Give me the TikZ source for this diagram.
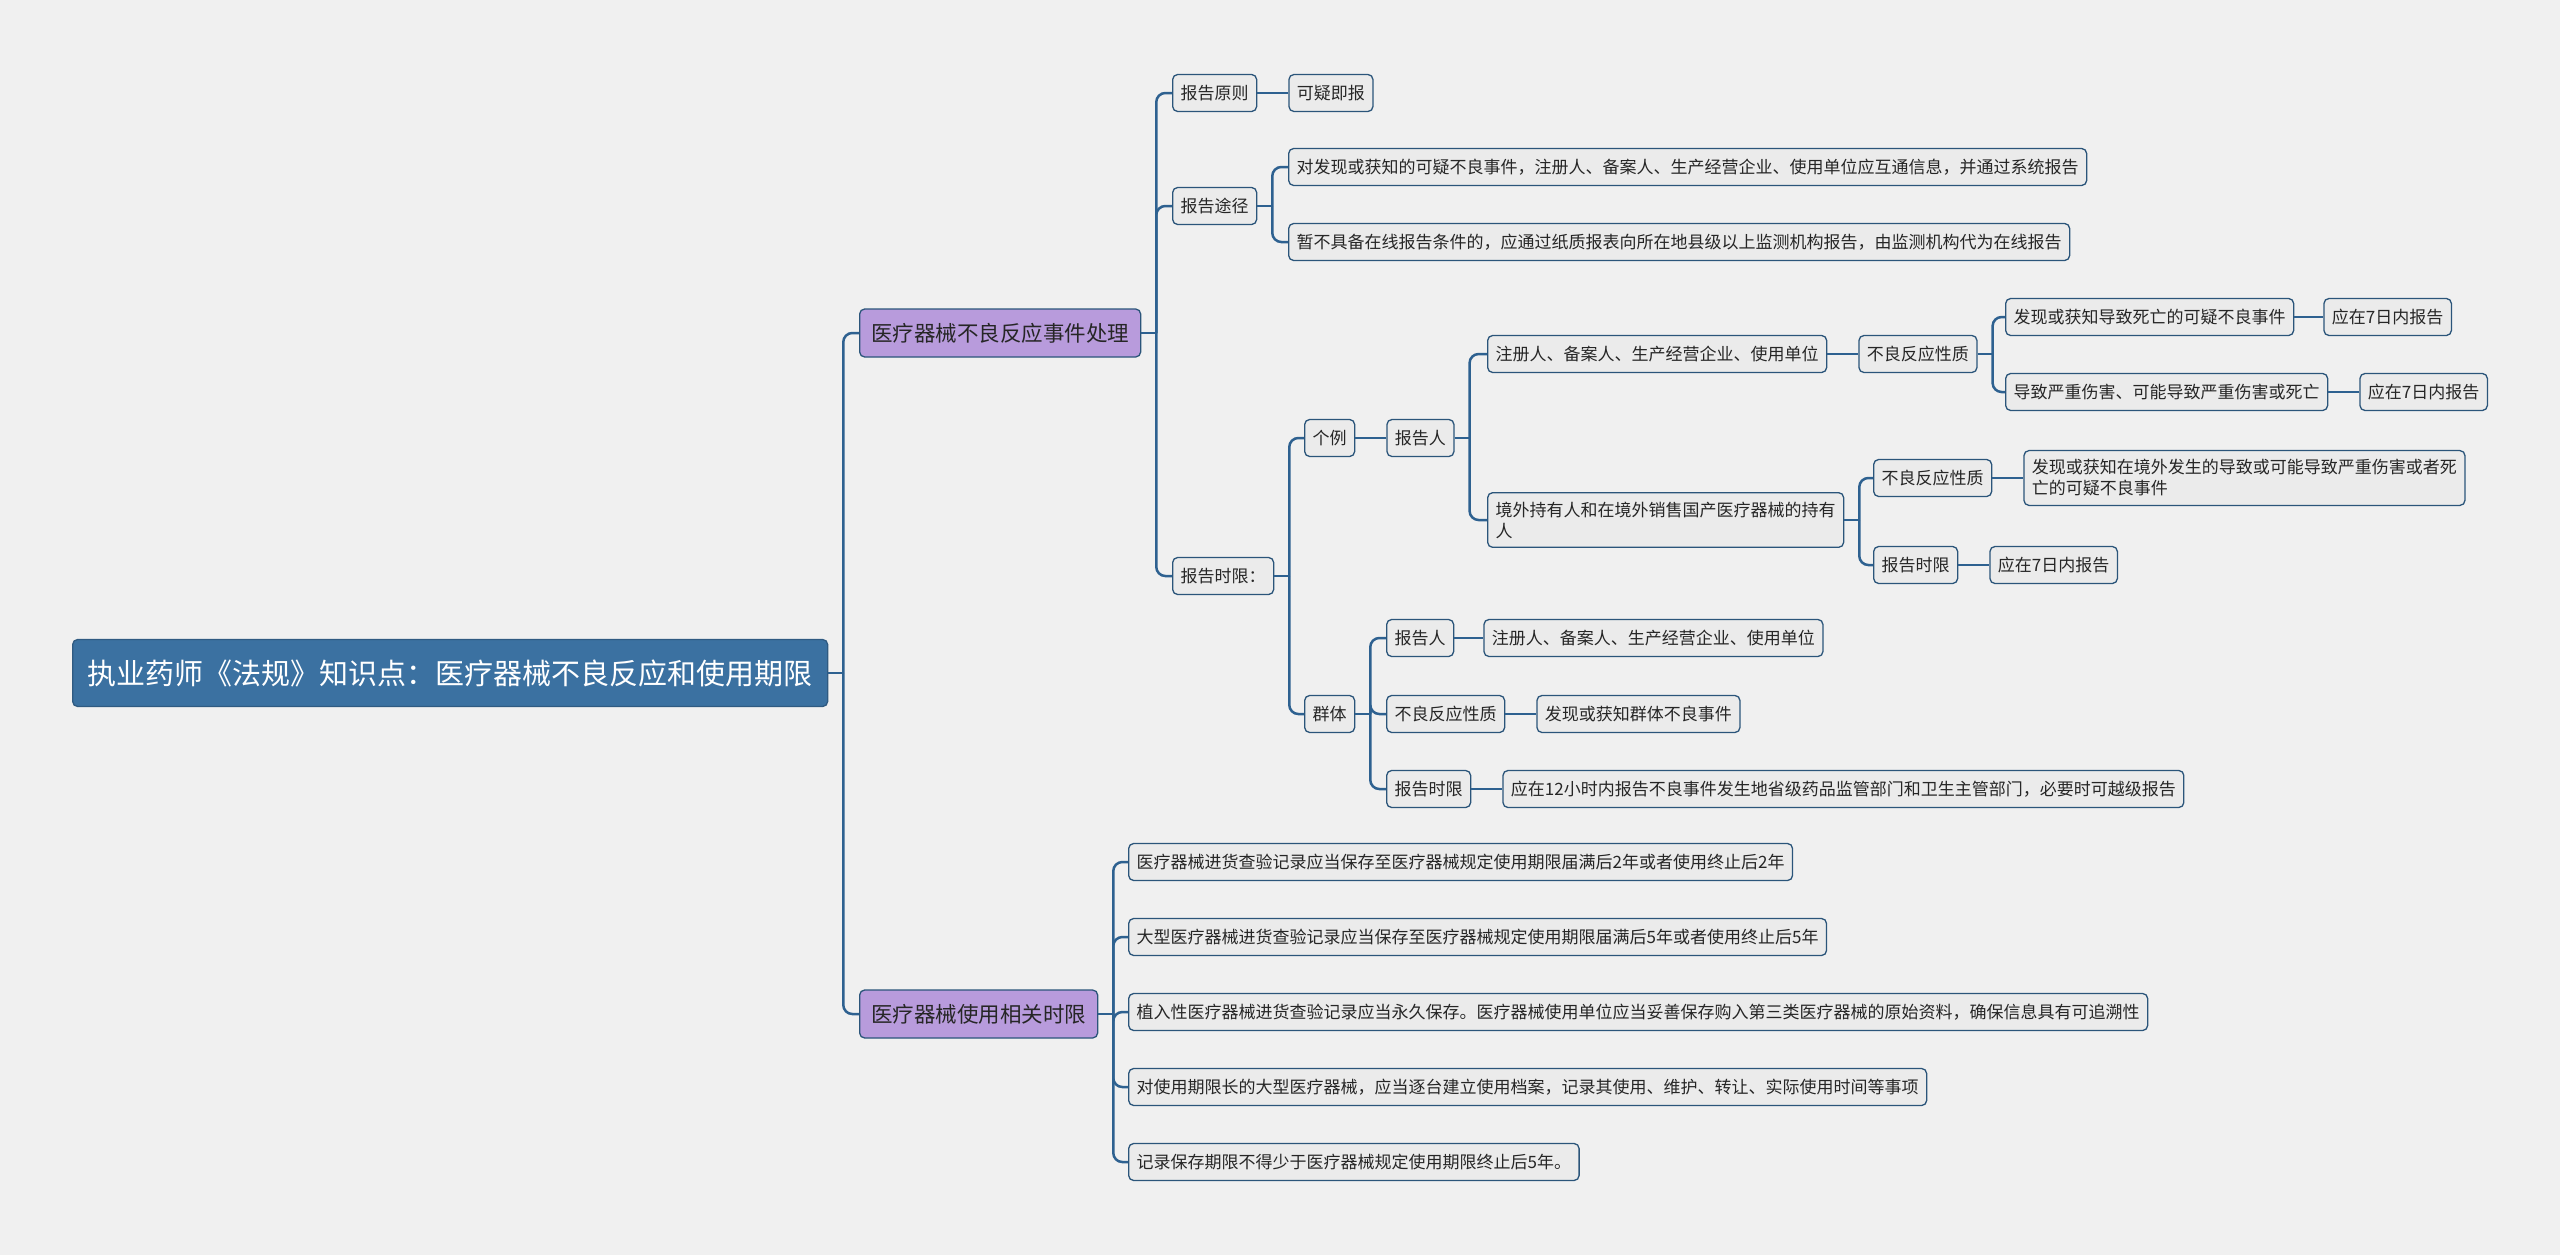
\documentclass[tikz,border=0pt]{standalone}
\usepackage{fontspec}
\setmainfont{Noto Sans CJK SC}
\usetikzlibrary{positioning}
\definecolor{bgc}{HTML}{F0F0F0}
\definecolor{linec}{HTML}{2E6190}
\definecolor{rootc}{HTML}{3B71A1}
\definecolor{mainc}{HTML}{B89BDC}
\definecolor{leafc}{HTML}{EBEBEB}
\definecolor{edgec}{HTML}{2B557A}

\begin{document}
\begin{tikzpicture}[x=1pt,y=-1pt,
  box/.style={draw=edgec,line width=1.3pt,rounded corners=5pt,anchor=west,inner ysep=0pt,minimum height=37pt},
  leaf/.style={box,fill=leafc,text=black!85,font=\fontsize{17}{21}\selectfont,inner xsep=8pt},
  twoline/.style={leaf,align=left,inner ysep=9pt},
  main/.style={box,fill=mainc,text=black!85,font=\fontsize{21.5}{26}\selectfont,inner xsep=11.5pt,minimum height=48pt},
  root/.style={box,fill=rootc,draw=rootc!80!black,text=white,font=\fontsize{29}{34}\selectfont,inner xsep=15pt,minimum height=67pt},
  conn/.style={draw=linec,line width=2.5pt,rounded corners=9pt}]
\fill[bgc] (0,0) rectangle (2560,1255);
% root and main branches
\node[root] (root) at (72,673) {执业药师《法规》知识点：医疗器械不良反应和使用期限};
\node[main] (b1) at (859,333) {医疗器械不良反应事件处理};
\node[main] (b2) at (859,1014) {医疗器械使用相关时限};
% reporting
\node[leaf] (yz) at (1172,93) {报告原则};
\node[leaf,right=31pt of yz] (yz1) {可疑即报};
\node[leaf] (tj) at (1172,206) {报告途径};
\node[leaf] (tj1) at (1288,167) {对发现或获知的可疑不良事件，注册人、备案人、生产经营企业、使用单位应互通信息，并通过系统报告};
\node[leaf] (tj2) at (1288,242) {暂不具备在线报告条件的，应通过纸质报表向所在地县级以上监测机构报告，由监测机构代为在线报告};
\node[leaf] (sx) at (1172,576) {报告时限：};
% single cases
\node[leaf] (gl) at (1304,438) {个例};
\node[leaf,right=31pt of gl] (glr) {报告人};
\node[leaf] (zc) at (1487,354) {注册人、备案人、生产经营企业、使用单位};
\node[leaf,right=31pt of zc] (zcx) {不良反应性质};
\node[leaf] (sw) at (2005,317) {发现或获知导致死亡的可疑不良事件};
\node[leaf,right=29pt of sw] (sw7) {应在7日内报告};
\node[leaf] (ss) at (2005,392) {导致严重伤害、可能导致严重伤害或死亡};
\node[leaf,right=31pt of ss] (ss7) {应在7日内报告};
\node[twoline] (jw) at (1487,520) {境外持有人和在境外销售国产医疗器械的持有\\人};
\node[leaf] (jwx) at (1873,478) {不良反应性质};
\node[twoline,right=31pt of jwx] (jwxd) {发现或获知在境外发生的导致或可能导致严重伤害或者死\\亡的可疑不良事件};
\node[leaf] (jwt) at (1873,565) {报告时限};
\node[leaf,right=31pt of jwt] (jwt7) {应在7日内报告};
% group cases
\node[leaf] (qt) at (1304,714) {群体};
\node[leaf] (qtr) at (1386,638) {报告人};
\node[leaf,right=29pt of qtr] (qtrz) {注册人、备案人、生产经营企业、使用单位};
\node[leaf] (qtx) at (1386,714) {不良反应性质};
\node[leaf,right=31pt of qtx] (qtxd) {发现或获知群体不良事件};
\node[leaf] (qtt) at (1386,789) {报告时限};
\node[leaf,right=31pt of qtt] (qttd) {应在12小时内报告不良事件发生地省级药品监管部门和卫生主管部门，必要时可越级报告};
% time limits
\node[leaf] (s1) at (1128,862) {医疗器械进货查验记录应当保存至医疗器械规定使用期限届满后2年或者使用终止后2年};
\node[leaf] (s2) at (1128,937) {大型医疗器械进货查验记录应当保存至医疗器械规定使用期限届满后5年或者使用终止后5年};
\node[leaf] (s3) at (1128,1012) {植入性医疗器械进货查验记录应当永久保存。医疗器械使用单位应当妥善保存购入第三类医疗器械的原始资料，确保信息具有可追溯性};
\node[leaf] (s4) at (1128,1087) {对使用期限长的大型医疗器械，应当逐台建立使用档案，记录其使用、维护、转让、实际使用时间等事项};
\node[leaf] (s5) at (1128,1162) {记录保存期限不得少于医疗器械规定使用期限终止后5年。};
% connectors: forks
\foreach \p/\c in {root/b1,root/b2,b1/yz,b1/tj,b1/sx,tj/tj1,tj/tj2,sx/gl,sx/qt,
  glr/zc,glr/jw,zcx/sw,zcx/ss,jw/jwx,jw/jwt,
  qt/qtr,qt/qtx,qt/qtt,b2/s1,b2/s2,b2/s3,b2/s4,b2/s5}{
  \draw[conn] (\p.east) -- ++(15,0);
  \draw[conn] ([xshift=15pt]\p.east) |- (\c.west);
}
% connectors: straight
\foreach \p/\c in {yz/yz1,gl/glr,zc/zcx,sw/sw7,ss/ss7,jwx/jwxd,jwt/jwt7,qtr/qtrz,qtx/qtxd,qtt/qttd}
  \draw[conn] (\p.east) -- (\c.west);
\end{tikzpicture}
\end{document}
